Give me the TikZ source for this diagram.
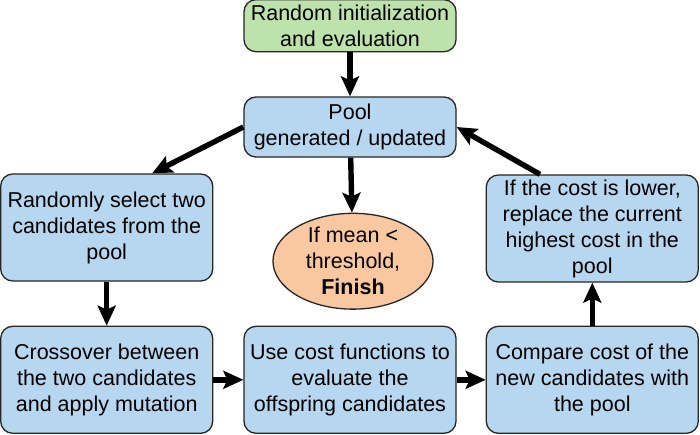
\documentclass[tikz,border=0pt]{standalone}
\usepackage{fontspec}
\setmainfont{Liberation Sans}
\usetikzlibrary{arrows.meta,positioning,shapes.geometric}

\definecolor{boxblue}{RGB}{183,214,239}
\definecolor{boxgreen}{RGB}{190,226,172}
\definecolor{boxorange}{RGB}{249,200,160}

\begin{document}
\begin{tikzpicture}[
		node distance=30pt,
		font=\fontsize{21.5}{26}\selectfont,
		block/.style={draw=black!85, line width=1.3pt, rounded corners=12pt, fill=boxblue, align=center, inner sep=2pt, minimum width=212pt, minimum height=107pt},
		flow/.style={line width=5.4pt, -{Stealth[length=20pt,width=18pt,inset=4pt]}},
	]
		\useasboundingbox (-350pt,-307pt) rectangle (350pt,127pt);
		\node[block, minimum height=60pt] (pool) at (0,0) {Pool\\generated / updated};
		\node[block, fill=boxgreen, minimum height=52pt, above=44pt of pool] (init) {Random initialization\\and evaluation};
		\node[draw=black!85, line width=1.3pt, ellipse, fill=boxorange, align=center, inner sep=0pt, minimum width=160pt, minimum height=84pt, below=55pt of pool, xshift=3pt] (stop) {If mean <\\threshold,\\\textbf{Finish}};
		\node[block, below=168pt of pool] (eval) {Use cost functions to\\evaluate the\\offspring candidates};
		\node[block, left=30pt of eval] (cross) {Crossover between\\the two candidates\\and apply mutation};
		\node[block, right=29pt of eval] (comp) {Compare cost of the\\new candidates with\\the pool};
		\node[block, above=44pt of cross] (sel) {Randomly select two\\candidates from the\\pool};
		\node[block, above=43pt of comp] (repl) {If the cost is lower,\\replace the current\\highest cost in the\\pool};
		
		\draw[flow] (init) -- (pool);
		\draw[flow] (pool) -- (stop);
		\draw[flow] (pool.west) -- (sel.50);
		\draw[flow] (sel) -- (cross);
		\draw[flow] (cross) -- (eval);
		\draw[flow] (eval) -- (comp);
		\draw[flow] (comp) -- (repl);
		\draw[flow] (repl.134) -- (pool.east);
	\end{tikzpicture}
\end{document}
